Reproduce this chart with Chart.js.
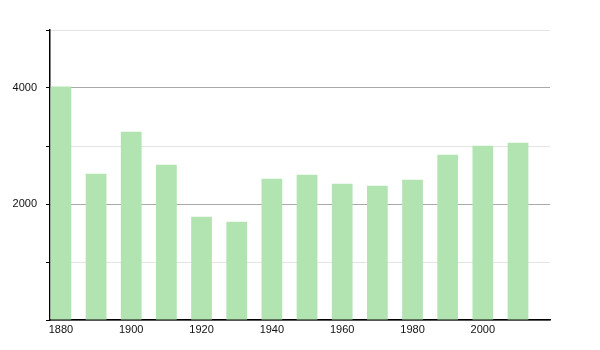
<!DOCTYPE html>
<html>
<head>
<meta charset="utf-8">
<script src="https://cdn.jsdelivr.net/npm/chart.js@4/dist/chart.umd.min.js"></script>
<style>
html,body{margin:0;padding:0;background:#fff;}
#wrap{width:600px;height:350px;position:relative;}
</style>
</head>
<body>
<div id="wrap"><canvas id="c" width="600" height="350"></canvas></div>
<script>
const years = [1880,1890,1900,1910,1920,1930,1940,1950,1960,1970,1980,1990,2000,2010];
const population = [4028,2522,3247,2678,1781,1695,2436,2505,2350,2316,2419,2850,3005,3057];
const xTickYears = [1880,1900,1920,1940,1960,1980,2000];
const yLabelValues = [2000,4000];

const points = years.map((y,i)=>({x:y,y:population[i]}));

new Chart(document.getElementById('c'), {
  type: 'bar',
  data: {
    datasets: [{
      data: points,
      backgroundColor: '#b2e4b2',
      borderWidth: 0,
      barPercentage: 0.59,
      categoryPercentage: 1.0
    }]
  },
  options: {
    responsive: false,
    animation: false,
    layout: { padding: { top: 30, right: 50, left: 0, bottom: 0 } },
    plugins: { legend: { display: false }, tooltip: { enabled: false } },
    scales: {
      x: {
        type: 'linear',
        min: 1876.9,
        max: 2019.1,
        offset: false,
        afterBuildTicks: s => { s.ticks = xTickYears.map(v => ({value: v})); },
        afterFit: s => { s.height = 30; },
        grid: { display: false, drawTicks: false },
        border: { display: true, color: '#000', width: 1.5 },
        ticks: {
          color: '#111',
          font: { family: 'Liberation Sans, Arial, sans-serif', size: 11 },
          padding: 3,
          maxRotation: 0,
          autoSkip: false,
          callback: v => String(v)
        }
      },
      y: {
        min: 0,
        max: 5000,
        afterBuildTicks: s => {
          const t = [];
          for (let v = 0; v <= 5000; v += 1000) t.push({value: v});
          s.ticks = t;
        },
        afterFit: s => { s.width = 50; },
        grid: {
          color: c => (c.tick && c.tick.value % 2000 === 0) ? '#a9a9a9' : '#e4e4e4',
          tickColor: '#000',
          tickLength: 4,
          drawTicks: true
        },
        border: { display: true, color: '#000', width: 1.5 },
        ticks: {
          color: '#111',
          font: { family: 'Liberation Sans, Arial, sans-serif', size: 11 },
          padding: 9,
          autoSkip: false,
          callback: v => yLabelValues.includes(v) ? String(v) : ''
        }
      }
    }
  }
});
</script>
</body>
</html>
